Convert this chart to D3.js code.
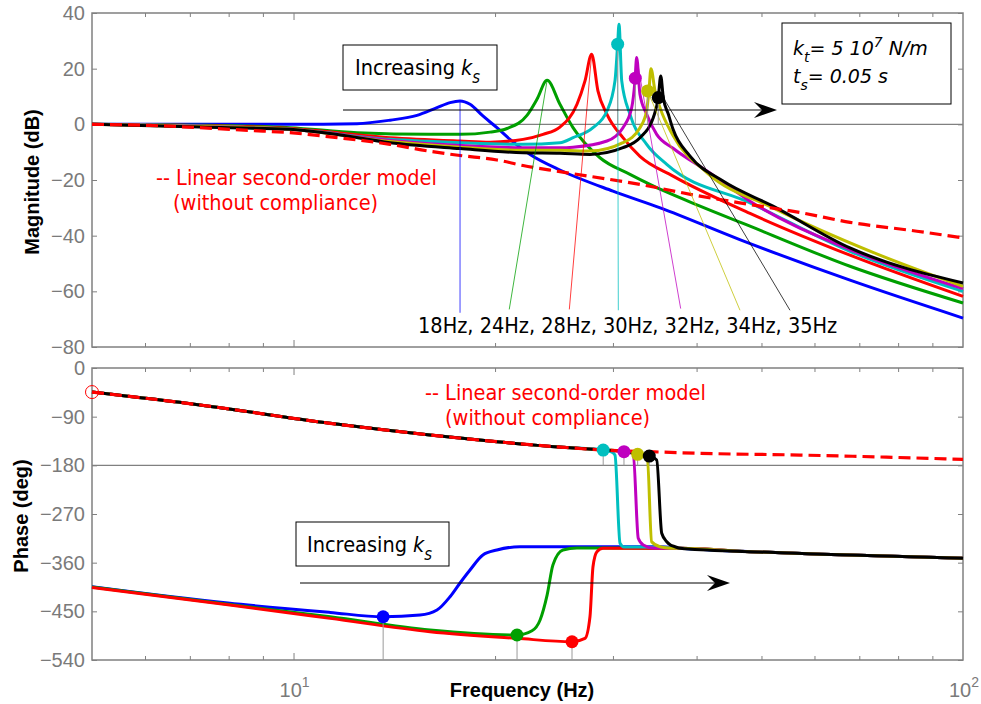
<!DOCTYPE html>
<html>
<head>
<meta charset="utf-8">
<script src="https://cdn.jsdelivr.net/npm/d3@7"></script>
<style>
  body { margin: 0; background: #fff; }
</style>
</head>
<body>
<svg id="chart" width="981" height="704"></svg>
<script>
// Bode plot: magnitude and phase for increasing ks

var freqTicks = [6, 7, 8, 9, 10, 20, 30, 40, 50, 60, 70, 80, 90];
var magTicks = [40, 20, 0, -20, -40, -60, -80];
var phaseTicks = [0, -90, -180, -270, -360, -450, -540];
var resonanceLabels = ["18Hz", "24Hz", "28Hz", "30Hz", "32Hz", "34Hz", "35Hz"];

// magnitude [Hz, dB]
var magBlue = [[5,0],[7.25,0],[9.88,0],[12.44,0.25],[13.94,1.5],[15.29,3.2],[16.38,6],[17.13,7.8],[17.73,8.4],[18.35,7.2],[19.18,3],[20.13,-1.2],[21.05,-5.4],[22.56,-10.8],[25,-16.4],[30,-24],[35.3,-30],[46.4,-41.4],[67.8,-56],[100,-69.6]];
var magGreen = [[5,0],[7.25,-0.3],[9.88,-1.2],[12.44,-3],[16,-3.6],[17.73,-3.6],[19.66,-2.8],[20.84,-1.5],[22.32,3.2],[23.1,9],[23.92,15.8],[25,7.2],[26.15,-1.2],[28.69,-12],[31.81,-18],[34.07,-21.6],[40.48,-29.4],[48.07,-36.6],[67.79,-51],[100,-64.2]];
var magRed = [[5,0],[7.25,-0.5],[9.88,-1.5],[13.94,-4.8],[17.73,-6],[19.66,-6.4],[22.02,-5.4],[23.59,-3.6],[25,-1],[26.51,7.2],[27.25,15.6],[27.88,25.2],[28.49,12],[29.39,3.6],[31.05,-4.8],[32.92,-11.5],[36.89,-18.6],[48.07,-32],[67.79,-47],[100,-61.8]];
var magCyan = [[5,0],[7.25,-0.6],[9.88,-1.8],[13.94,-5.4],[17.73,-6.6],[22.02,-7.2],[25,-6.6],[26.15,-4.8],[28.01,-1.2],[29.39,4.8],[30.21,15.6],[30.49,28.8],[30.63,36],[30.92,15.6],[31.81,3.6],[33.69,-7.2],[36.1,-14.4],[48.07,-28.2],[67.79,-45.6],[100,-60]];
var magMagenta = [[5,0],[7.25,-0.7],[9.88,-1.8],[13.94,-5.8],[17.73,-7.6],[22.02,-8.4],[25,-8.4],[26.15,-8.2],[29.39,-6],[31.05,-1.2],[32,6],[32.36,15.6],[32.55,24],[32.92,10.8],[33.69,3.6],[34.87,-3.6],[36.89,-8.6],[41.47,-16.8],[48.07,-27.6],[67.79,-45],[100,-59]];
var magYellow = [[5,0],[7.25,-0.8],[9.88,-1.8],[13.94,-6.2],[17.73,-8.2],[22.02,-9.3],[25,-9.3],[27.72,-9.6],[31.05,-6.6],[32.92,-1.2],[33.69,5],[33.95,12],[34.19,20],[34.67,12],[35.27,6],[36.89,-4],[41.47,-17.4],[52.03,-30],[73.37,-46],[100,-58.2]];
var magBlack = [[5,0],[7.25,-1],[9.88,-1.8],[11.34,-3.3],[13.94,-6.6],[17.73,-8.7],[22.02,-10.2],[25,-10.4],[27.72,-10.8],[31.05,-8.4],[32.92,-4.8],[34.46,2.4],[35.06,9.6],[35.36,17.4],[35.67,9.6],[36.3,3.6],[36.89,-1.8],[39.11,-11.4],[43.81,-20.4],[52.03,-29.4],[67.79,-44.4],[100,-57]];
var magModel = [[5,0],[6.1,-0.4],[7.25,-1.2],[8.61,-2.2],[9.88,-3],[11.34,-4.5],[13.94,-7.2],[16,-9.7],[17.73,-11.2],[20.13,-12.8],[22.02,-14.8],[25,-17],[32.92,-21.6],[40.48,-25.8],[48.07,-28.8],[57.09,-31.7],[67.79,-35.2],[85.33,-38.4],[100,-40.8]];

// phase [Hz, deg]
var phaseHead = [[5,-44.5],[7.25,-68.4],[11.34,-102.3],[15.99,-123.9],[20.13,-136.3],[25.26,-146.7],[29.01,-151.7]];
var phaseTail = [[37.78,-333.4],[48.07,-339.7],[67.79,-345.8],[100,-352]];
var phaseBlue = [[5,-404.5],[7.98,-434.8],[11.34,-452],[13.61,-460],[15.45,-457],[16.38,-447.6],[17.13,-423],[17.73,-397.6],[18.35,-373.6],[19.18,-345.8],[20.13,-336.6],[21.79,-330.5],[25,-330.5],[35.27,-330.5]].concat(phaseTail);
var phaseGreen = [[5,-405],[7.98,-437],[11.34,-460],[15.99,-484.6],[21.57,-493.8],[22.71,-486],[23.35,-466],[23.92,-420],[24.41,-364],[25.26,-336.6],[26.51,-333],[28.69,-333]].concat(phaseTail);
var phaseRed = [[5,-406],[7.98,-438],[11.34,-463],[15.99,-487.7],[21.57,-500],[26.06,-506.2],[27.25,-500],[27.72,-460],[28.01,-367.5],[28.39,-339.7],[28.98,-333.4]].concat(phaseTail);
var phaseCyan = phaseHead.concat([[29.84,-155],[30.21,-160.9],[30.74,-324.2],[31.16,-331],[35.27,-331.5]], phaseTail);
var phaseMagenta = phaseHead.concat([[31.16,-154.8],[32.17,-158.5],[32.73,-315],[33.3,-327.4],[34.46,-333]], phaseTail);
var phaseYellow = phaseHead.concat([[31.16,-154],[32.66,-159.6],[33.76,-164.6],[34.27,-321.3],[35.27,-330.5],[36.56,-333.2]], phaseTail);
var phaseBlack = phaseHead.concat([[31.16,-154],[32.66,-158],[33.99,-162.8],[34.87,-170],[35.48,-305.7],[36.1,-321.3],[36.56,-327.4],[37.14,-330.5]], phaseTail);
var phaseModel = phaseHead.concat([[34.07,-154.8],[40.48,-157.8],[57.09,-161],[100,-168.9]]);

// markers: series index, Hz, value, stem end
var magDots = [[3,30.49,28.8,0],[4,32.4,16.6,0],[5,33.8,12,0],[6,35.06,9.6,0]];
var phaseDots = [[0,13.61,-460,-540],[1,21.57,-493.8,-540],[2,26.06,-506.2,-540],[3,29.01,-151.7,-180],[4,31.16,-154.8,-180],[5,32.66,-159.6,-180],[6,33.99,-162.8,-180]];

// leader lines from each peak to the Hz label
var leaderFrom = [[17.73,8.4],[23.92,15.8],[27.88,25.2],[30.49,28.8],[32.55,24],[33.8,12],[35.67,9.6]];
var leaderTo = [[17.73,-67.7],[21,-66.5],[25.82,-66.5],[30.56,-66.8],[37.87,-66.2],[46.44,-66.8],[55.15,-66.8]];

var colors = ["#0000ff", "#009f00", "#ff0000", "#00bfbf", "#bf00bf", "#bfbf00", "#000000"];
var grey = "#808080";

var magSeries = [magBlue, magGreen, magRed, magCyan, magMagenta, magYellow, magBlack];
var phaseSeries = [phaseBlue, phaseGreen, phaseRed, phaseCyan, phaseMagenta, phaseYellow, phaseBlack];

var svg = d3.select("#chart");
svg.append("rect").attr("width", 981).attr("height", 704).attr("fill", "#fff");

var x = d3.scaleLog().domain([5, 100]).range([92, 963]);
var yMag = d3.scaleLinear().domain([-80, 40]).range([347, 13]);
var yPh = d3.scaleLinear().domain([-540, 0]).range([660, 368]);

function frame(y, ticks, refValue) {
  var top = y.range()[1], bottom = y.range()[0];
  var left = x.range()[0], right = x.range()[1];

  svg.append("line")
      .attr("x1", left).attr("x2", right)
      .attr("y1", y(refValue)).attr("y2", y(refValue))
      .attr("stroke", grey).attr("stroke-width", 1.2);

  var gl = svg.append("g").attr("transform", "translate(" + left + ",0)")
      .call(d3.axisLeft(y).tickValues(ticks).tickSize(-5).tickPadding(7));
  var gr = svg.append("g").attr("transform", "translate(" + right + ",0)")
      .call(d3.axisRight(y).tickValues(ticks).tickSize(-5).tickFormat(""));
  var gt = svg.append("g").attr("transform", "translate(0," + top + ")")
      .call(d3.axisTop(x).tickValues(freqTicks).tickSize(-4).tickFormat(""));
  var gb = svg.append("g").attr("transform", "translate(0," + bottom + ")")
      .call(d3.axisBottom(x).tickValues(freqTicks).tickSize(-4).tickFormat(""));

  [gl, gr, gt, gb].forEach(function(g) {
    g.select(".domain").remove();
    g.attr("font-family", "'Liberation Sans', Arial, sans-serif").attr("font-size", 20);
    g.selectAll("line").attr("stroke", grey);
    g.selectAll("text").attr("fill", "#7a7a7a");
  });
  gt.selectAll(".tick line").filter(function(d) { return d === 10; }).attr("y2", 7);
  gb.selectAll(".tick line").filter(function(d) { return d === 10; }).attr("y2", -7);

  svg.append("rect")
      .attr("x", left).attr("y", top)
      .attr("width", right - left).attr("height", bottom - top)
      .attr("fill", "none").attr("stroke", grey).attr("stroke-width", 1.5);
}

function curve(data, y, color, width, dash) {
  var line = d3.line()
      .x(function(d) { return x(d[0]); })
      .y(function(d) { return y(d[1]); })
      .curve(d3.curveMonotoneX);
  svg.append("path")
      .datum(data)
      .attr("d", line)
      .attr("fill", "none")
      .attr("stroke", color)
      .attr("stroke-width", width)
      .attr("stroke-dasharray", dash || null)
      .attr("stroke-linejoin", "round");
}

function dots(list, y) {
  list.forEach(function(d) {
    svg.append("line")
        .attr("x1", x(d[1])).attr("x2", x(d[1]))
        .attr("y1", y(d[2])).attr("y2", y(d[3]))
        .attr("stroke", "#9a9a9a").attr("stroke-width", 1);
  });
  list.forEach(function(d) {
    svg.append("circle")
        .attr("cx", x(d[1])).attr("cy", y(d[2])).attr("r", 6.5)
        .attr("fill", colors[d[0]]);
  });
}

// narrow sans text (the figure uses a Tahoma-like face)
function narrow(px, py, color) {
  return svg.append("text")
      .attr("transform", "translate(" + px + "," + py + ") scale(0.88,1)")
      .attr("font-family", "'DejaVu Sans', Verdana, sans-serif")
      .attr("font-size", 22)
      .attr("fill", color || "#000");
}

function increasingBox(bx, by, bw, bh, tx, ty) {
  svg.append("rect").attr("x", bx).attr("y", by).attr("width", bw).attr("height", bh)
      .attr("fill", "#fff").attr("stroke", "#000").attr("stroke-width", 1);
  var t = narrow(tx, ty);
  t.append("tspan").text("Increasing ");
  t.append("tspan").attr("font-style", "italic").text("k");
  t.append("tspan").attr("font-style", "italic").attr("font-size", 17).attr("dy", 8).text("s");
}

function arrow(x1, x2, ay) {
  svg.append("line").attr("x1", x1).attr("x2", x2 - 8).attr("y1", ay).attr("y2", ay)
      .attr("stroke", "#000").attr("stroke-width", 1);
  svg.append("path")
      .attr("d", "M" + x2 + "," + ay + "L" + (x2 - 23) + "," + (ay - 8) + "L" + (x2 - 15) + "," + ay + "L" + (x2 - 23) + "," + (ay + 8) + "Z")
      .attr("fill", "#000");
}

// ---------- magnitude panel ----------
frame(yMag, magTicks, 0);

magSeries.forEach(function(s, i) { curve(s, yMag, colors[i], 3); });
curve(magModel, yMag, "#ff0000", 3.2, "12,6");

leaderFrom.forEach(function(p, i) {
  svg.append("line")
      .attr("x1", x(p[0])).attr("y1", yMag(p[1]))
      .attr("x2", x(leaderTo[i][0])).attr("y2", yMag(leaderTo[i][1]))
      .attr("stroke", colors[i]).attr("stroke-width", 1).attr("opacity", 0.75);
});
dots(magDots, yMag);

narrow(418, 333).text(resonanceLabels.join(", "));

increasingBox(343, 45, 154, 45, 355, 75);
arrow(343, 777, 110);

svg.append("rect").attr("x", 782).attr("y", 23).attr("width", 169).attr("height", 81)
    .attr("fill", "#fff").attr("stroke", "#000").attr("stroke-width", 1);
var kt = svg.append("text").attr("x", 793).attr("y", 55)
    .attr("font-family", "'DejaVu Sans', Verdana, sans-serif").attr("font-size", 19)
    .attr("font-style", "italic");
kt.append("tspan").text("k");
kt.append("tspan").attr("font-size", 14).attr("dy", 7).text("t");
kt.append("tspan").attr("dy", -7).text("= 5 10");
kt.append("tspan").attr("font-size", 14).attr("dy", -8).text("7");
kt.append("tspan").attr("dy", 8).text(" N/m");
var ts = svg.append("text").attr("x", 793).attr("y", 83)
    .attr("font-family", "'DejaVu Sans', Verdana, sans-serif").attr("font-size", 19)
    .attr("font-style", "italic");
ts.append("tspan").text("t");
ts.append("tspan").attr("font-size", 14).attr("dy", 7).text("s");
ts.append("tspan").attr("dy", -7).text("= 0.05 s");

narrow(156, 185, "#ff0000").text("-- Linear second-order model");
narrow(173, 210, "#ff0000").text("(without compliance)");

// ---------- phase panel ----------
frame(yPh, phaseTicks, -180);

phaseSeries.forEach(function(s, i) { curve(s, yPh, colors[i], 3); });
curve(phaseModel, yPh, "#ff0000", 3.2, "12,6");
dots(phaseDots, yPh);

svg.append("circle")
    .attr("cx", x(phaseModel[0][0])).attr("cy", yPh(phaseModel[0][1])).attr("r", 6.5)
    .attr("fill", "none").attr("stroke", "#ff0000").attr("stroke-width", 1);

narrow(425, 400, "#ff0000").text("-- Linear second-order model");
narrow(445, 425, "#ff0000").text("(without compliance)");

increasingBox(296, 522, 153, 44, 307, 552);
arrow(300, 730, 583);

// x tick labels (decades)
[[10, "1"], [100, "2"]].forEach(function(d) {
  var t = svg.append("text")
      .attr("x", x(d[0]) - 14).attr("y", 697)
      .attr("font-family", "'Liberation Sans', Arial, sans-serif").attr("font-size", 20)
      .attr("fill", "#7a7a7a");
  t.append("tspan").text("10");
  t.append("tspan").attr("font-size", 14).attr("dy", -10).text(d[1]);
});

// axis titles
function title(str, tx, ty, rot) {
  svg.append("text")
      .attr("transform", "translate(" + tx + "," + ty + ")" + (rot ? " rotate(-90)" : ""))
      .attr("text-anchor", "middle")
      .attr("font-family", "'Liberation Sans', Arial, sans-serif")
      .attr("font-size", 20).attr("font-weight", "bold")
      .text(str);
}
title("Magnitude (dB)", 39, 182, true);
title("Phase (deg)", 28, 516, true);
title("Frequency (Hz)", 522, 697, false);
</script>
</body>
</html>
